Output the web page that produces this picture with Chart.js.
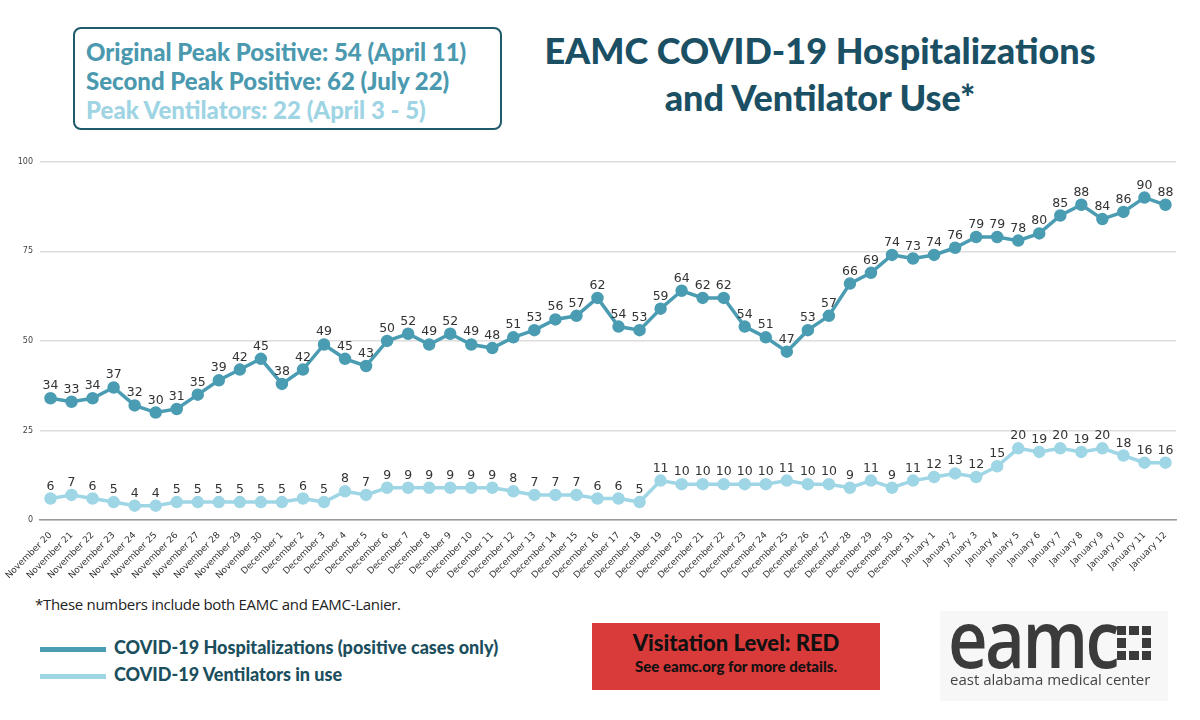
<!DOCTYPE html>
<html>
<head>
<meta charset="utf-8">
<script src="https://cdn.jsdelivr.net/npm/chart.js@4.4.0/dist/chart.umd.min.js"></script>
<style>
  body { margin: 0; width: 1200px; height: 720px; background: #fff; position: relative; overflow: hidden; font-family: "Open Sans", sans-serif; }
  .peaks { position: absolute; left: 73px; top: 27px; width: 429px; height: 103px; border: 2px solid #1f5a6b; border-radius: 8px; box-sizing: border-box; padding: 8px 0 0 11px; font-family: Lato, sans-serif; font-weight: 900; font-size: 24px; line-height: 29px; }
  .title { position: absolute; left: 500px; width: 640px; top: 27px; text-align: center; color: #1b5064; font-family: Lato, sans-serif; font-weight: 900; font-size: 36px; line-height: 47px; }
  #wrap { position: absolute; left: 0; top: 150px; width: 1200px; height: 440px; }
  .note { position: absolute; left: 35px; top: 594px; font-size: 15px; color: #222; letter-spacing: -0.3px; }
  .leg { position: absolute; left: 40px; font-family: Lato, sans-serif; font-weight: 900; font-size: 18px; color: #1c4f5e; }
  .leg span { display: inline-block; width: 66px; height: 5px; vertical-align: middle; margin-right: 8px; }
  .red { position: absolute; left: 592px; top: 623px; width: 288px; height: 67px; background: #d93a3a; text-align: center; font-family: Lato, sans-serif; font-weight: 900; color: #111; }
  .logo { position: absolute; left: 940px; top: 611px; width: 228px; height: 90px; background: #f7f7f7; color: #3b3b3b; }
</style>
</head>
<body>
<div class="peaks">
  <div style="color:#4b99af">Original Peak Positive: 54 (April 11)</div>
  <div style="color:#4b99af">Second Peak Positive: 62 (July 22)</div>
  <div style="color:#9ed4e3">Peak Ventilators: 22 (April 3 - 5)</div>
</div>
<div class="title">EAMC COVID-19 Hospitalizations<br>and Ventilator Use*</div>
<div id="wrap"><canvas id="chart"></canvas></div>
<div class="note">*These numbers include both EAMC and EAMC-Lanier.</div>
<div class="leg" style="top:636px"><span style="background:#4a9cb2"></span>COVID-19 Hospitalizations (positive cases only)</div>
<div class="leg" style="top:663px"><span style="background:#9fd6e6"></span>COVID-19 Ventilators in use</div>
<div class="red">
  <div style="font-size:22px;margin-top:6px">Visitation Level: RED</div>
  <div style="font-size:15px;margin-top:1px">See eamc.org for more details.</div>
</div>
<div class="logo">
  <div style="position:absolute;left:8px;top:-14px;font-family:'Open Sans',sans-serif;font-size:80px;line-height:80px;font-weight:600;letter-spacing:-3px;transform:scaleX(0.86);transform-origin:left top">eamc</div>
  <div style="position:absolute;left:177px;top:15px;width:34px;height:34px;display:grid;grid-template-columns:repeat(3,1fr);gap:3px">
    <i style="background:#3b3b3b"></i><i style="background:#3b3b3b"></i><i style="background:#3b3b3b"></i>
    <i style="background:#3b3b3b"></i><i></i><i style="background:#3b3b3b"></i>
    <i style="background:#3b3b3b"></i><i style="background:#3b3b3b"></i><i style="background:#3b3b3b"></i>
  </div>
  <div style="position:absolute;left:10px;top:58px;font-size:15px;color:#444">east alabama medical center</div>
</div>

<script>
const days = [
  "November 20", "November 21", "November 22", "November 23", "November 24", "November 25",
  "November 26", "November 27", "November 28", "November 29", "November 30",
  "December 1", "December 2", "December 3", "December 4", "December 5", "December 6",
  "December 7", "December 8", "December 9", "December 10", "December 11", "December 12",
  "December 13", "December 14", "December 15", "December 16", "December 17", "December 18",
  "December 19", "December 20", "December 21", "December 22", "December 23", "December 24",
  "December 25", "December 26", "December 27", "December 28", "December 29", "December 30",
  "December 31", "January 1", "January 2", "January 3", "January 4", "January 5",
  "January 6", "January 7", "January 8", "January 9", "January 10", "January 11", "January 12",
];
const hospitalizations = [
  34, 33, 34, 37, 32, 30, 31, 35, 39, 42, 45,
  38, 42, 49, 45, 43, 50, 52, 49, 52, 49, 48, 51, 53, 56, 57, 62, 54, 53, 59, 64,
  62, 62, 54, 51, 47, 53, 57, 66, 69, 74, 73,
  74, 76, 79, 79, 78, 80, 85, 88, 84, 86, 90, 88,
];
const ventilators = [
  6, 7, 6, 5, 4, 4, 5, 5, 5, 5, 5,
  5, 6, 5, 8, 7, 9, 9, 9, 9, 9, 9, 8, 7, 7, 7, 6, 6, 5, 11, 10,
  10, 10, 10, 10, 11, 10, 10, 9, 11, 9, 11,
  12, 13, 12, 15, 20, 19, 20, 19, 20, 18, 16, 16,
];
const yTicks = [0, 25, 50, 75, 100];

// draws the value above each point
const valueLabels = {
  id: "valueLabels",
  afterDatasetsDraw(chart) {
    const ctx = chart.ctx;
    ctx.save();
    ctx.font = "12.5px 'DejaVu Sans'";
    ctx.fillStyle = "#333";
    ctx.textAlign = "center";
    ctx.textBaseline = "bottom";
    chart.data.datasets.forEach((ds, i) => {
      chart.getDatasetMeta(i).data.forEach((pt, j) => {
        ctx.fillText(ds.data[j], pt.x, pt.y - 6);
      });
    });
    ctx.restore();
  },
};

new Chart(document.getElementById("chart"), {
  type: "line",
  data: {
    labels: days,
    datasets: [
      {
        label: "COVID-19 Hospitalizations (positive cases only)",
        data: hospitalizations,
        borderColor: "#4a9cb2",
        backgroundColor: "#4a9cb2",
        borderWidth: 3.5,
        pointRadius: 4.5,
        pointHoverRadius: 4.5,
        tension: 0,
      },
      {
        label: "COVID-19 Ventilators in use",
        data: ventilators,
        borderColor: "#9fd6e6",
        backgroundColor: "#9fd6e6",
        borderWidth: 3.5,
        pointRadius: 4.5,
        pointHoverRadius: 4.5,
        tension: 0,
      },
    ],
  },
  options: {
    responsive: true,
    maintainAspectRatio: false,
    animation: false,
    layout: { padding: { top: 11, right: 24, left: 0, bottom: 0 } },
    plugins: { legend: { display: false }, tooltip: { enabled: false } },
    scales: {
      x: {
        offset: true,
        grid: { display: false },
        border: { color: "#999", width: 1.5 },
        ticks: {
          minRotation: 45,
          maxRotation: 45,
          autoSkip: false,
          color: "#333",
          font: { size: 9, family: "'DejaVu Sans'" },
          padding: 2,
        },
        afterFit(axis) { axis.height = 70; },
      },
      y: {
        min: 0,
        max: 100,
        afterBuildTicks(axis) { axis.ticks = yTicks.map((v) => ({ value: v })); },
        grid: { color: "#ddd", lineWidth: 1.5, drawTicks: false },
        border: { display: false },
        ticks: { color: "#444", font: { size: 8, family: "'DejaVu Sans'" }, padding: 7 },
        afterFit(axis) { axis.width = 40; },
      },
    },
  },
  plugins: [valueLabels],
});
</script>
</body>
</html>
